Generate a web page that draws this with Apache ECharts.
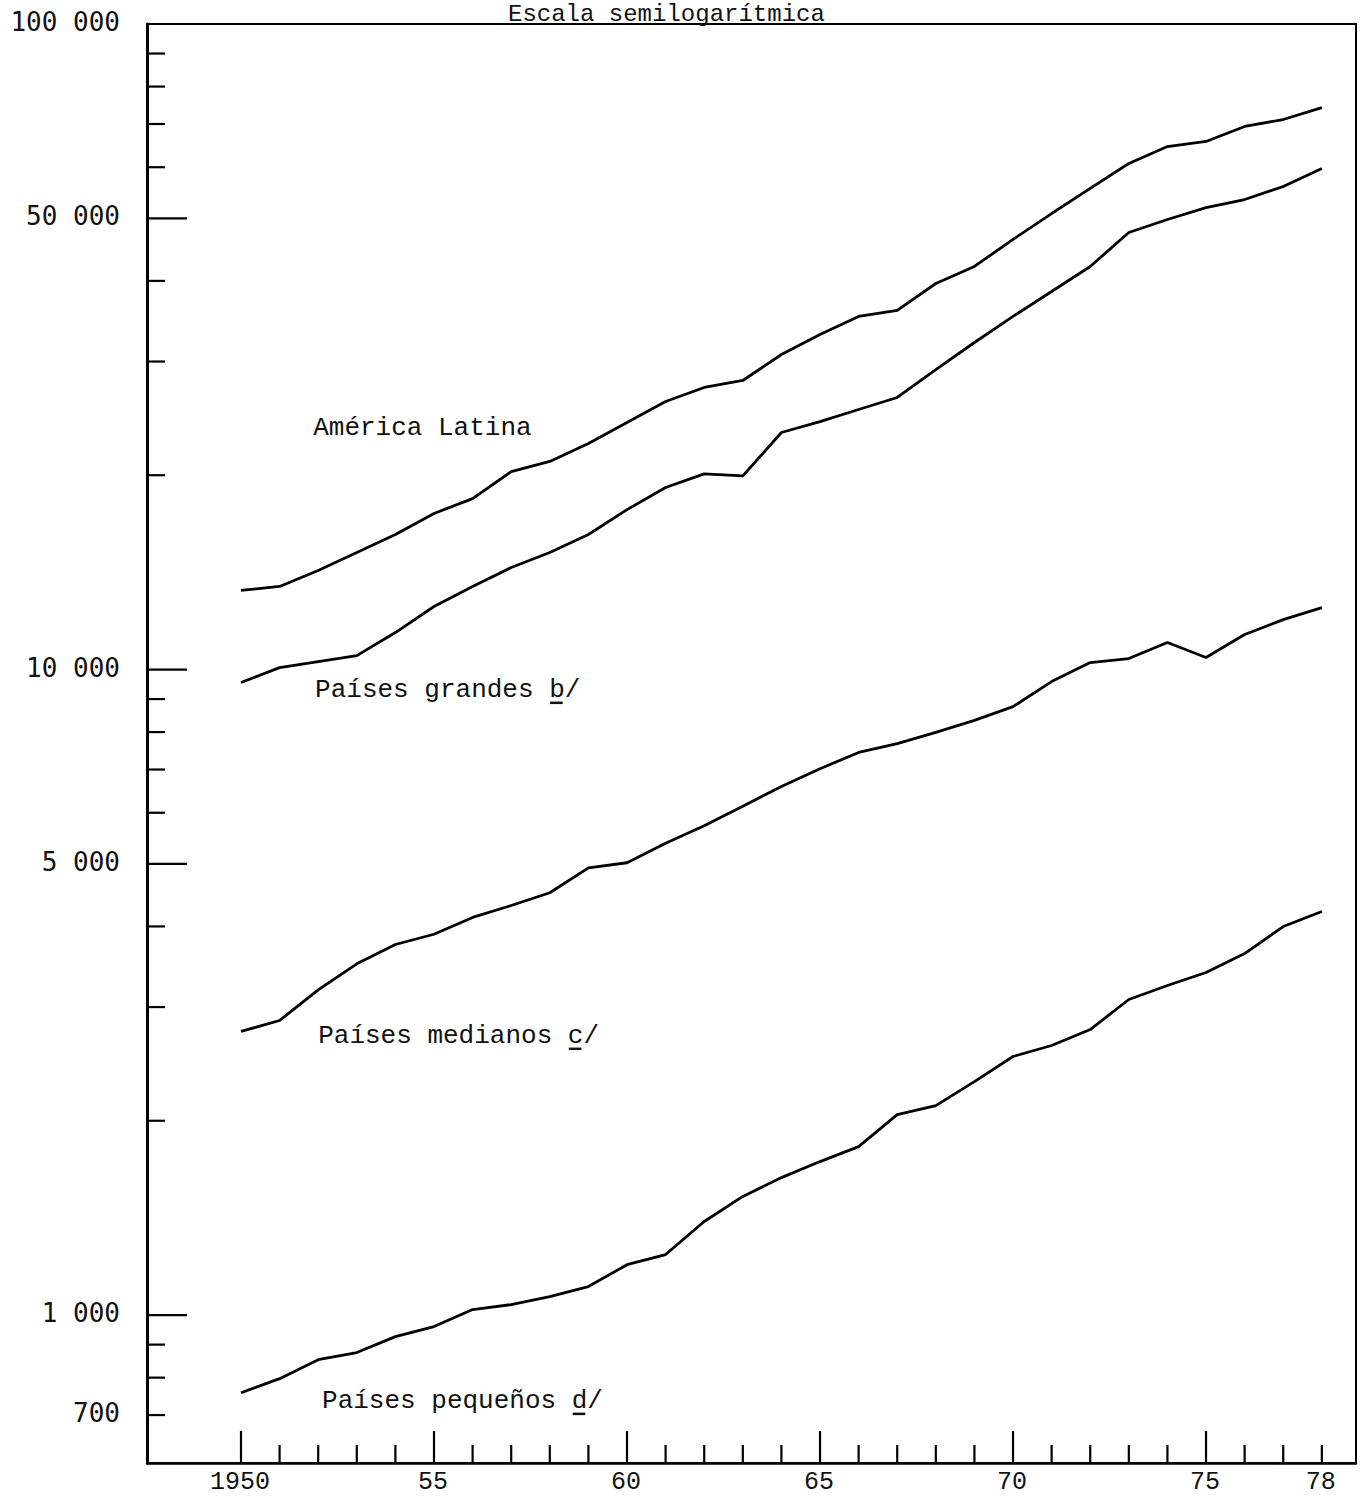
<!DOCTYPE html>
<html>
<head>
<meta charset="utf-8">
<script src="https://cdn.jsdelivr.net/npm/echarts@6/dist/echarts.min.js"></script>
<style>
html,body{margin:0;padding:0;background:#fff;}
#chart{width:1364px;height:1498px;}
</style>
</head>
<body>
<div id="chart"></div>
<script>
// ---- Data ----
const years = [1950,1951,1952,1953,1954,1955,1956,1957,1958,1959,1960,1961,1962,1963,1964,
               1965,1966,1967,1968,1969,1970,1971,1972,1973,1974,1975,1976,1977,1978];

const americaLatina = [13260,13450,14240,15180,16190,17450,18400,20260,21010,22390,24130,26020,27350,28040,30760,
                       33040,35240,36000,39630,42110,46380,50860,55630,60800,64590,65770,69380,71130,74230];

const paisesGrandes = [9550,10070,10290,10510,11410,12520,13450,14390,15180,16190,17690,19140,20100,19950,23290,
                       24220,25280,26390,29150,32110,35240,38510,42110,47530,49790,51960,53470,56020,59720];

const paisesMedianos = [2750,2860,3190,3500,3750,3890,4130,4310,4510,4930,5020,5380,5730,6140,6590,
                        7020,7440,7680,7990,8340,8760,9580,10250,10400,11010,10440,11330,11950,12470];

const paisesPequenos = [758,797,853,875,926,960,1020,1038,1068,1107,1197,1241,1396,1527,1633,
                        1729,1824,2044,2111,2300,2515,2616,2769,3082,3240,3394,3631,3998,4218];

const seriesNames = ['América Latina', 'Países grandes b/', 'Países medianos c/', 'Países pequeños d/'];
const nameAnchors = [[1951.87, 23700], [1951.92, 9310], [1952.0, 2710], [1952.1, 737]];
const underlineIndex = [-1, 15, 16, 16];

const yTickLabels = [100000, 50000, 10000, 5000, 1000, 700];
const yMajorTicks = [50000, 10000, 5000, 1000];
const yMinorTicks = [90000, 80000, 70000, 60000, 40000, 30000, 20000,
                     9000, 8000, 7000, 6000, 4000, 3000, 2000, 900, 800, 700];

const xMajorTicks = [1950, 1955, 1960, 1965, 1970, 1975];
const xMinorTicks = years.filter(y => xMajorTicks.indexOf(y) < 0);
const xTickLabels = [1950, 1955, 1960, 1965, 1970, 1975, 1978];
const xTickLabelText = ['1950', '55', '60', '65', '70', '75', '78'];

const titleText = 'Escala semilogarítmica';

// ---- Axis ranges ----
const X_MIN = 1947.565, X_MAX = 1978.885;
const Y_MIN = 590, Y_MAX = 100000;
const INK = '#111';
const MONO = '"Liberation Mono", "DejaVu Sans Mono", monospace';
const CHAR_W = 26 * 0.6;

function fmtThousands(v) {
  return String(Math.round(v)).replace(/\B(?=(\d{3})+(?!\d))/g, ' ');
}

function yTickSeries(values, len) {
  return {
    type: 'custom', coordinateSystem: 'cartesian2d', silent: true, clip: false, z: 5,
    data: values.map(v => [X_MIN, v]),
    renderItem(params, api) {
      const p = api.coord([api.value(0), api.value(1)]);
      return {type: 'line', shape: {x1: p[0], y1: p[1], x2: p[0] + len, y2: p[1]},
              style: {stroke: '#000', lineWidth: 2.2}};
    }
  };
}

function xTickSeries(values, len) {
  return {
    type: 'custom', coordinateSystem: 'cartesian2d', silent: true, clip: false, z: 5,
    data: values.map(v => [v, Y_MIN]),
    renderItem(params, api) {
      const p = api.coord([api.value(0), api.value(1)]);
      return {type: 'line', shape: {x1: p[0], y1: p[1], x2: p[0], y2: p[1] - len},
              style: {stroke: '#000', lineWidth: 2.2}};
    }
  };
}

function lineSeries(name, values) {
  return {
    name: name, type: 'line', symbol: 'none', z: 3,
    data: years.map((y, i) => [y, values[i]]),
    lineStyle: {color: '#000', width: 2.8},
    emphasis: {disabled: true}
  };
}

const chart = echarts.init(document.getElementById('chart'), null, {renderer: 'svg'});

chart.setOption({
  animation: false,
  backgroundColor: '#fff',
  title: {
    text: titleText, left: 503, top: -3,
    textStyle: {fontFamily: MONO, fontSize: 24, fontWeight: 'normal', color: INK}
  },
  grid: {left: 147, right: 8, top: 24, bottom: 35, show: true,
         borderColor: '#000', borderWidth: 2, backgroundColor: 'transparent'},
  xAxis: {
    type: 'value', min: X_MIN, max: X_MAX,
    axisLine: {show: true, lineStyle: {color: '#000', width: 2.5}},
    axisTick: {show: false}, axisLabel: {show: false}, splitLine: {show: false}
  },
  yAxis: {
    type: 'log', logBase: 10, min: Y_MIN, max: Y_MAX,
    axisLine: {show: true, lineStyle: {color: '#000', width: 3}},
    axisTick: {show: false}, axisLabel: {show: false}, splitLine: {show: false},
    minorTick: {show: false}, minorSplitLine: {show: false}
  },
  series: [
    lineSeries(seriesNames[0], americaLatina),
    lineSeries(seriesNames[1], paisesGrandes),
    lineSeries(seriesNames[2], paisesMedianos),
    lineSeries(seriesNames[3], paisesPequenos),
    yTickSeries(yMajorTicks, 40),
    yTickSeries(yMinorTicks, 18),
    xTickSeries(xMajorTicks, 32),
    xTickSeries(xMinorTicks, 18),
    {
      type: 'custom', coordinateSystem: 'cartesian2d', silent: true, clip: false, z: 6,
      data: yTickLabels.map(v => [X_MIN, v]),
      renderItem(params, api) {
        const p = api.coord([api.value(0), api.value(1)]);
        return {type: 'text', x: p[0] - 27, y: p[1] - 2,
                style: {text: fmtThousands(api.value(1)), fill: INK,
                        font: '26px "DejaVu Sans Mono", monospace',
                        align: 'right', verticalAlign: 'middle'}};
      }
    },
    {
      type: 'custom', coordinateSystem: 'cartesian2d', silent: true, clip: false, z: 6,
      data: xTickLabels.map(v => [v, Y_MIN]),
      renderItem(params, api) {
        const p = api.coord([api.value(0), api.value(1)]);
        return {type: 'text', x: p[0] - 1, y: p[1] + 19,
                style: {text: xTickLabelText[params.dataIndex], fill: INK,
                        font: '25px ' + MONO, align: 'center', verticalAlign: 'middle'}};
      }
    },
    {
      type: 'custom', coordinateSystem: 'cartesian2d', silent: true, clip: false, z: 6,
      data: nameAnchors,
      renderItem(params, api) {
        const i = params.dataIndex;
        const p = api.coord([api.value(0), api.value(1)]);
        const children = [{
          type: 'text', x: p[0], y: p[1],
          style: {text: seriesNames[i], fill: INK, font: '26px ' + MONO,
                  align: 'left', verticalAlign: 'middle'}
        }];
        if (underlineIndex[i] >= 0) {
          children.push({type: 'rect',
            shape: {x: p[0] + underlineIndex[i] * CHAR_W + 1, y: p[1] + 12, width: CHAR_W - 3, height: 2.5},
            style: {fill: INK}});
        }
        return {type: 'group', children: children};
      }
    }
  ]
});
</script>
</body>
</html>
